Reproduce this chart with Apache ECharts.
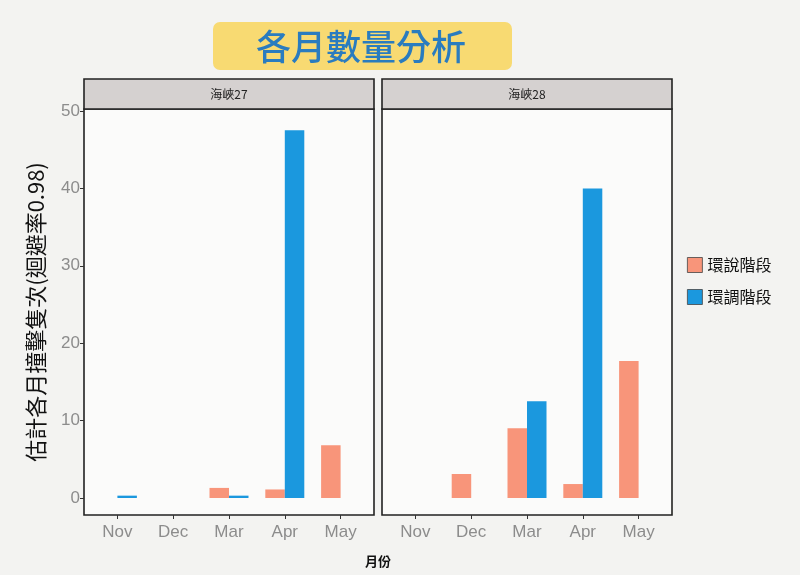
<!DOCTYPE html>
<html>
<head>
<meta charset="utf-8">
<script src="https://cdn.jsdelivr.net/npm/echarts@6/dist/echarts.min.js"></script>
<style>
  html, body { margin: 0; padding: 0; background: #f3f3f1; }
  #chart { width: 800px; height: 575px; }
</style>
</head>
<body>
<div id="chart"></div>
<script>
const months = ["Nov", "Dec", "Mar", "Apr", "May"];
const facetNames = ["海峽27", "海峽28"];
const seriesNames = ["環說階段", "環調階段"];
const yTicks = [0, 10, 20, 30, 40, 50];

// 海峽27
const strait27Eia = [null, null, 1.3, 1.1, 6.8];
const strait27Survey = [0.3, null, 0.3, 47.5, null];
// 海峽28
const strait28Eia = [null, 3.1, 9.0, 1.8, 17.7];
const strait28Survey = [null, null, 12.5, 40.0, null];

const colors = ["#f8957a", "#1b98de"];

// panel layout (px)
const panels = [
  { x: 84, w: 290 },
  { x: 382, w: 290 }
];
const stripTop = 79, stripH = 30, panelBottom = 515;
const inset = 5.5;

const chart = echarts.init(document.getElementById("chart"), null, { renderer: "canvas" });

const grids = panels.map(p => ({
  left: p.x + inset,
  width: p.w - 2 * inset,
  top: stripTop + stripH,
  height: panelBottom - stripTop - stripH,
  containLabel: false
}));

const xAxes = panels.map((p, i) => ({
  type: "category",
  gridIndex: i,
  data: months,
  axisLine: { show: false, onZero: false },
  axisTick: { show: true, alignWithLabel: true, length: 4, lineStyle: { color: "#333" } },
  axisLabel: { color: "#8c8c8c", fontSize: 17, fontFamily: "Liberation Sans", margin: 9 }
}));

const yAxes = panels.map((p, i) => ({
  type: "value",
  gridIndex: i,
  min: -2.2,
  max: 50.26,
  offset: inset,
  name: i === 0 ? "估計各月撞擊隻次(迴避率0.98)" : "",
  nameLocation: "middle",
  nameRotate: 90,
  nameGap: 37,
  nameTextStyle: { fontSize: 22, color: "#111", fontFamily: "Noto Sans CJK TC" },
  axisLine: { show: false },
  splitLine: { show: false },
  axisTick: { show: i === 0, length: 4, customValues: yTicks, lineStyle: { color: "#333" } },
  axisLabel: { show: i === 0, customValues: yTicks, color: "#8c8c8c", fontSize: 17, fontFamily: "Liberation Sans", margin: 4 }
}));

const seriesData = [
  [strait27Eia, strait27Survey],
  [strait28Eia, strait28Survey]
];
const series = [];
seriesData.forEach((pair, gi) => {
  pair.forEach((vals, si) => {
    series.push({
      name: seriesNames[si],
      type: "bar",
      xAxisIndex: gi,
      yAxisIndex: gi,
      data: vals,
      barWidth: 19.5,
      barGap: "0%",
      itemStyle: { color: colors[si] }
    });
  });
});

const graphics = [];
// title box
graphics.push({
  type: "rect",
  shape: { x: 213, y: 22, width: 299, height: 48, r: 7 },
  style: { fill: "#f8da72" },
  z: 0
});
graphics.push({
  type: "text",
  x: 361, y: 47,
  style: {
    text: "各月數量分析", fill: "#2a7cbf", fontSize: 35, fontWeight: 500,
    fontFamily: "Noto Sans CJK TC", align: "center", verticalAlign: "middle"
  }
});
// panels and strips
panels.forEach((p, i) => {
  graphics.push({
    type: "rect",
    shape: { x: p.x, y: stripTop + stripH, width: p.w, height: panelBottom - stripTop - stripH },
    style: { fill: "#fbfbfa", stroke: "#222", lineWidth: 1.6 },
    z: -1
  });
  graphics.push({
    type: "rect",
    shape: { x: p.x, y: stripTop, width: p.w, height: stripH },
    style: { fill: "#d5d1d0", stroke: "#222", lineWidth: 1.6 }
  });
  graphics.push({
    type: "text",
    x: p.x + p.w / 2, y: stripTop + stripH / 2,
    style: {
      text: facetNames[i], fill: "#222", fontSize: 12,
      fontFamily: "Noto Sans CJK TC", align: "center", verticalAlign: "middle"
    }
  });
});
// x axis title
graphics.push({
  type: "text",
  x: 378, y: 561,
  style: {
    text: "月份", fill: "#111", fontSize: 13, fontWeight: "bold",
    fontFamily: "Noto Sans CJK TC", align: "center", verticalAlign: "middle"
  }
});

chart.setOption({
  backgroundColor: "#f3f3f1",
  animation: false,
  grid: grids,
  xAxis: xAxes,
  yAxis: yAxes,
  series: series,
  legend: {
    data: seriesNames,
    orient: "vertical",
    left: 682,
    top: 252,
    itemWidth: 15,
    itemHeight: 15,
    itemGap: 16,
    icon: "rect",
    itemStyle: { borderColor: "#444", borderWidth: 0.8 },
    textStyle: { fontSize: 16, color: "#111", fontFamily: "Noto Sans CJK TC" }
  },
  graphic: graphics
});
</script>
</body>
</html>
